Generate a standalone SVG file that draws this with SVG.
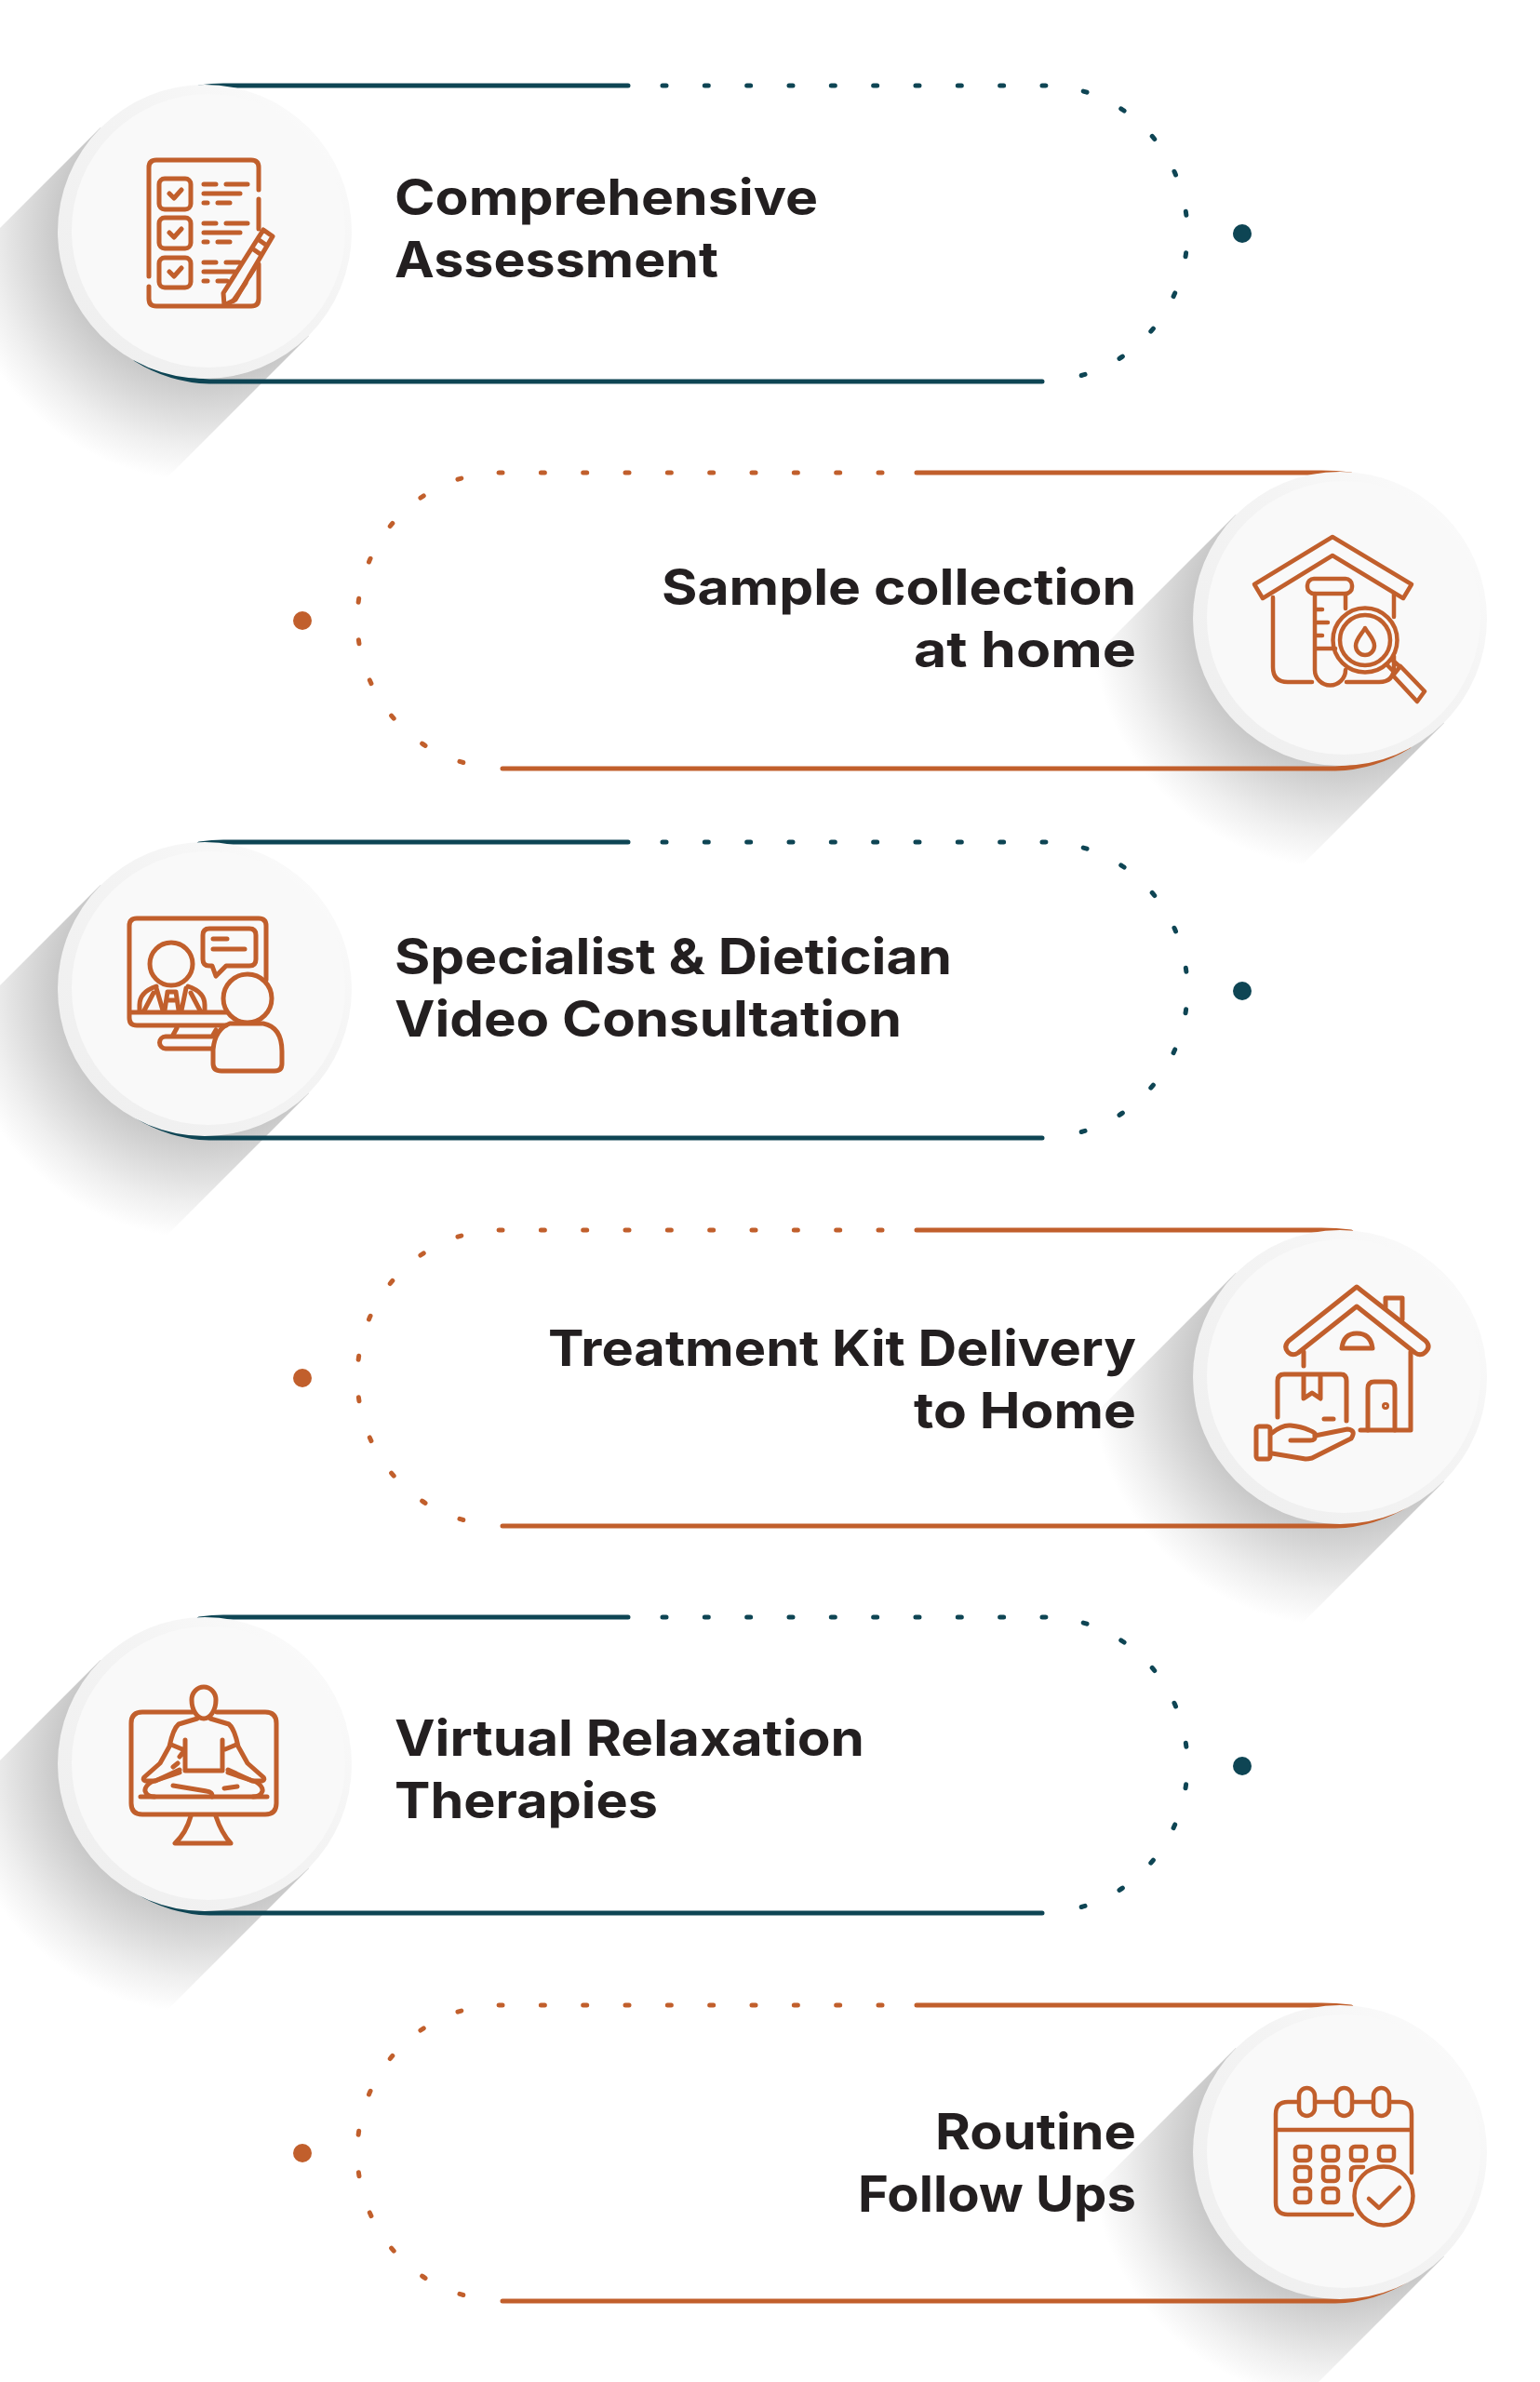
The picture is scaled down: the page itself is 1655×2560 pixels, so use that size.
<svg xmlns="http://www.w3.org/2000/svg" width="1655" height="2560" viewBox="0 0 1655 2560">
<style>
text{font-family:"Inter","Liberation Sans",sans-serif;font-weight:700;font-size:54px;fill:#231f20}
.e{text-anchor:end}
.solid,.dots,.dotsArc{fill:none;stroke-width:5;stroke-linecap:round}
.dots{stroke-dasharray:4 41.33}
.dotsArc{stroke-dasharray:4 40.8}
.teal{stroke:#0e4554}
.rust{stroke:#c15f2c}
.ic{fill:none;stroke:#c15f2c;stroke-width:5;stroke-linecap:round;stroke-linejoin:round}
.ic.thin{stroke-width:4.500}
</style>
<defs>
<radialGradient id="sg2" gradientUnits="userSpaceOnUse" cx="0" cy="0" r="268">
<stop offset=".52" stop-color="#bfbfbf"/><stop offset=".7" stop-color="#d8d8d8"/><stop offset=".86" stop-color="#efefef"/><stop offset="1" stop-color="#fff"/>
</radialGradient>
<linearGradient id="rim" x1="0" y1="1" x2="1" y2="0">
<stop offset="0" stop-color="#eeeeee"/><stop offset=".6" stop-color="#f4f4f4"/><stop offset="1" stop-color="#fdfdfd"/>
</linearGradient>
<path id="shadow" d="M112 112 L-100 324 L-324 100 L-112 -112 Z" fill="url(#sg2)"/>
<g id="disc"><circle r="158" fill="url(#rim)"/><circle cx="4" cy="-1" r="147" fill="#f9f9f9"/></g>
</defs>
<rect width="1655" height="2560" fill="#fff"/>
<g id="shadows">
<use href="#shadow" x="220" y="249"/>
<use href="#shadow" x="1440" y="665"/>
<use href="#shadow" x="220" y="1063"/>
<use href="#shadow" x="1440" y="1480"/>
<use href="#shadow" x="220" y="1896"/>
<use href="#shadow" x="1440" y="2313"/>
</g>
<g id="connectors">
<g id="conn1">
<path class="solid teal" d="M675 92 H240 Q228 92 214 94 M1120 410 H225 A161 161 0 0 1 146 386"/>
<path class="dots teal" d="M712 92 H1090"/>
<path class="dotsArc teal" d="M1120 92 H1122 A154 158.500 0 0 1 1122 409"/>
</g>
<g id="conn2" transform="translate(0,417)">
<path class="solid rust" d="M985 91 H1420 Q1436 91 1452 93 M540 409 H1435 A161 161 0 0 0 1514 385"/>
<path class="dots rust" d="M948 91 H570"/>
<path class="dotsArc rust" d="M540 91 H538 A154 158.500 0 0 0 538 408"/>
</g>
<g id="conn3" transform="translate(0,813)">
<path class="solid teal" d="M675 92 H240 Q228 92 214 94 M1120 410 H225 A161 161 0 0 1 146 386"/>
<path class="dots teal" d="M712 92 H1090"/>
<path class="dotsArc teal" d="M1120 92 H1122 A154 158.500 0 0 1 1122 409"/>
</g>
<g id="conn4" transform="translate(0,1231)">
<path class="solid rust" d="M985 91 H1420 Q1436 91 1452 93 M540 409 H1435 A161 161 0 0 0 1514 385"/>
<path class="dots rust" d="M948 91 H570"/>
<path class="dotsArc rust" d="M540 91 H538 A154 158.500 0 0 0 538 408"/>
</g>
<g id="conn5" transform="translate(0,1646)">
<path class="solid teal" d="M675 92 H240 Q228 92 214 94 M1120 410 H225 A161 161 0 0 1 146 386"/>
<path class="dots teal" d="M712 92 H1090"/>
<path class="dotsArc teal" d="M1120 92 H1122 A154 158.500 0 0 1 1122 409"/>
</g>
<g id="conn6" transform="translate(0,2064)">
<path class="solid rust" d="M985 91 H1420 Q1436 91 1452 93 M540 409 H1435 A161 161 0 0 0 1514 385"/>
<path class="dots rust" d="M948 91 H570"/>
<path class="dotsArc rust" d="M540 91 H538 A154 158.500 0 0 0 538 408"/>
</g>
</g>

<g id="node1">
<use href="#disc" x="220" y="249"/>
<g class="ic">
<path d="M160 297 V180 Q160 172 168 172 H270 Q278 172 278 180 V204 M278 214 V246 M278 284 V321 Q278 329 270 329 H168 Q160 329 160 321 V308"/>
<rect x="171" y="192" width="34" height="33" rx="6"/><rect x="171" y="234" width="34" height="33" rx="6"/><rect x="171" y="277" width="34" height="32" rx="6"/>
<path d="M182 208 L187 213 L195 204 M182 250 L187 255 L195 246 M182 292 L187 297 L195 288"/>
<path d="M219 198 H232 M243 198 H266 M219 208 H258 M219 218 H223 M234 218 H247 M219 240 H232 M243 240 H266 M219 250 H258 M219 260 H223 M234 260 H247 M219 282 H232 M243 282 H257 M219 292 H252 M219 302 H223 M234 302 H244"/>
<path d="M283 247 L293 254 L253 322 L241 328 L240 315 Z M277 257 L287 264 M271 267 L281 274"/>
<path d="M251 323 L264 304 M268 297 L275 286"/>
</g>
<text x="424" y="230.500" textLength="455" lengthAdjust="spacingAndGlyphs">Comprehensive</text>
<text x="424" y="297.500" textLength="348" lengthAdjust="spacingAndGlyphs">Assessment</text>
<circle cx="1335" cy="251" r="10" fill="#0e4554"/>
</g>

<g id="node2">
<use href="#disc" x="1440" y="665"/>
<g class="ic thin">
<path d="M1432 577 L1517 628 L1508 643 L1432 597 L1357 643 L1348 628 Z"/>
<path d="M1368 642 V717 Q1368 733 1384 733 H1410 M1498 638 V663 M1498 705 V717 Q1498 733 1482 733 H1447"/>
<rect x="1405" y="622" width="48" height="16" rx="7"/>
<path d="M1413 638 V720 A16.500 16.500 0 0 0 1446 720 M1446 638 V654 M1413 655 H1421 M1413 669 H1427 M1413 683 H1421 M1413 697 H1435"/>
<circle cx="1467" cy="688" r="34.500"/><circle cx="1467" cy="688" r="27"/>
<path d="M1467 675 C1463 682 1457 687 1457 694 A10 10 0 0 0 1477 694 C1477 687 1471 682 1467 675 Z"/>
<path d="M1490 714 L1499 723 M1496 709 L1505 717 M1505 716 L1531 743 L1523 754 L1497 726 Z"/>
</g>
<text class="e" x="1221" y="650" textLength="510" lengthAdjust="spacingAndGlyphs">Sample collection</text>
<text class="e" x="1221" y="717" textLength="239" lengthAdjust="spacingAndGlyphs">at home</text>
<circle cx="325" cy="667" r="10" fill="#c15f2c"/>
</g>

<g id="node3">
<use href="#disc" x="220" y="1063"/>
<g class="ic">
<path d="M286 1053 V995 Q286 987 278 987 H147 Q139 987 139 995 V1094 Q139 1102 147 1102 H243 M139 1088 H243 M190 1105 L185 1114 M232 1107 L228 1114 M228 1114 H178 A6.500 6.500 0 0 0 178 1127 H228"/>
<circle cx="184" cy="1036" r="23"/>
<path d="M150 1087 V1080 Q150 1066 168 1060 M202 1060 Q220 1066 220 1080 V1087 M168 1062 L175 1086 M200 1062 L195 1086 M155 1086 L165 1067 M215 1086 L205 1067 M180 1066 H189 M180 1066 L177 1086 M189 1066 L192 1086 M180 1075 H189"/>
<path d="M225 998 H268 Q275 998 275 1005 V1031 Q275 1038 268 1038 H243 L232 1049 L228 1038 H225 Q218 1038 218 1031 V1005 Q218 998 225 998 Z M229 1009 H244 M229 1020 H263"/>
<circle cx="266" cy="1073" r="26"/>
<path d="M247 1100 Q231 1106 229 1128 V1143 Q229 1151 238 1151 H295 Q303 1151 303 1143 V1130 Q303 1104 283 1100 H247 Z"/>
</g>
<text x="424" y="1046.500" textLength="599" lengthAdjust="spacingAndGlyphs">Specialist &amp; Dietician</text>
<text x="424" y="1113.500" textLength="545" lengthAdjust="spacingAndGlyphs">Video Consultation</text>
<circle cx="1335" cy="1065" r="10" fill="#0e4554"/>
</g>

<g id="node4">
<use href="#disc" x="1440" y="1480"/>
<g class="ic">
<path d="M1458 1383 L1532 1441 Q1538 1447 1532 1453 Q1527 1458 1521 1454 L1458 1404 L1395 1454 Q1389 1458 1384 1453 Q1379 1447 1385 1441 Z"/>
<path d="M1489 1405 V1395 H1507 V1418"/>
<path d="M1442 1449 H1475 Q1473 1433 1458 1433 Q1444 1433 1442 1449 Z"/>
<path d="M1516 1453 V1537 H1462 M1401 1453 V1468"/>
<path d="M1470 1537 V1492 Q1470 1485 1477 1485 H1492 Q1499 1485 1499 1492 V1537"/>
<circle cx="1489" cy="1511" r="1.500"/>
<path d="M1373 1523 V1484 Q1373 1477 1380 1477 H1441 Q1447 1477 1447 1484 V1527 M1401 1477 V1503 L1410 1497 L1419 1503 V1477 M1423 1525 H1433"/>
<rect x="1350" y="1533" width="15" height="35" rx="3"/>
<path d="M1367 1540 Q1378 1531 1387 1532 Q1398 1533 1407 1537 Q1415 1540 1413 1543 L1448 1536 Q1458 1537 1452 1546 L1410 1567 Q1406 1568 1403 1568 L1367 1562 M1387 1548 H1408 Q1414 1548 1413 1543"/>
</g>
<text class="e" x="1221" y="1468" textLength="632" lengthAdjust="spacingAndGlyphs">Treatment Kit Delivery</text>
<text class="e" x="1221" y="1535" textLength="239" lengthAdjust="spacingAndGlyphs">to Home</text>
<circle cx="325" cy="1481" r="10" fill="#c15f2c"/>
</g>

<g id="node5">
<use href="#disc" x="220" y="1896"/>
<g class="ic">
<path d="M207 1840 H153 Q141 1840 141 1852 V1938 Q141 1950 153 1950 H285 Q297 1950 297 1938 V1852 Q297 1840 285 1840 H233"/>
<path d="M219 1813 C226 1813 232 1819 232 1827 C232 1838 226 1847 219 1847 C212 1847 206 1838 206 1827 C206 1819 212 1813 219 1813 Z"/>
<path d="M151 1931 H287 M205 1952 Q200 1970 188 1981 H248 Q238 1970 232 1952"/>
<path d="M212 1847 L192 1853 Q186 1858 182 1877 L172 1895 L155 1910 Q153 1913 156 1914 L167 1914 L193 1902 M226 1847 L246 1853 Q252 1858 256 1877 L266 1895 L283 1910 Q285 1913 282 1914 L271 1914 L245 1902"/>
<path d="M199 1870 V1903 H239 V1870 M184 1875 L196 1880 M254 1875 L242 1880 M196 1884 L193 1888 M191 1895 L186 1899"/>
<path d="M163 1915 Q155 1920 156 1925 Q158 1931 166 1931 M275 1915 Q283 1920 282 1925 Q280 1931 272 1931 M193 1905 L163 1915 M245 1905 L275 1915"/>
<path d="M186 1919 L222 1925 Q229 1926 228 1931 M241 1922 L255 1920"/>
</g>
<text x="424" y="1887" textLength="505" lengthAdjust="spacingAndGlyphs">Virtual Relaxation</text>
<text x="424" y="1954" textLength="283" lengthAdjust="spacingAndGlyphs">Therapies</text>
<circle cx="1335" cy="1898" r="10" fill="#0e4554"/>
</g>

<g id="node6">
<use href="#disc" x="1440" y="2313"/>
<g class="ic thin">
<path d="M1517 2335 V2272 Q1517 2259 1504 2259 H1495 M1475 2259 H1454 M1435 2259 H1414 M1395 2259 H1384 Q1371 2259 1371 2272 V2367 Q1371 2380 1384 2380 H1453 M1371 2289 H1517"/>
<rect x="1396" y="2244" width="17" height="30" rx="8.500"/><rect x="1436" y="2244" width="17" height="30" rx="8.500"/><rect x="1476" y="2244" width="17" height="30" rx="8.500"/>
<rect x="1392" y="2307" width="16" height="15" rx="4"/><rect x="1422" y="2307" width="16" height="15" rx="4"/><rect x="1452" y="2307" width="16" height="15" rx="4"/><rect x="1482" y="2307" width="16" height="15" rx="4"/>
<rect x="1392" y="2329" width="16" height="15" rx="4"/><rect x="1422" y="2329" width="16" height="15" rx="4"/>
<path d="M1452 2343 V2334 Q1452 2329 1457 2329 H1465"/>
<rect x="1392" y="2352" width="16" height="15" rx="4"/><rect x="1422" y="2352" width="16" height="15" rx="4"/>
<circle cx="1487" cy="2360" r="31.500"/>
<path d="M1471 2363 L1482 2373 L1504 2351"/>
</g>
<text class="e" x="1221" y="2310" textLength="216" lengthAdjust="spacingAndGlyphs">Routine</text>
<text class="e" x="1221" y="2377" textLength="299" lengthAdjust="spacingAndGlyphs">Follow Ups</text>
<circle cx="325" cy="2314" r="10" fill="#c15f2c"/>
</g>
</svg>
